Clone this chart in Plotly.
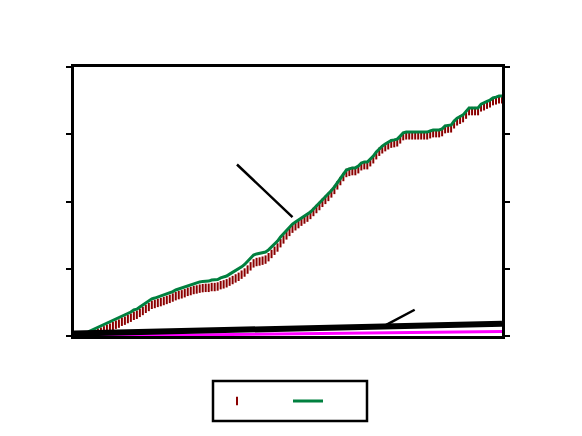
import plotly.graph_objects as go

# ---- data ----
green_vals = [0.2, 0.2, 0.4, 0.6, 0.7, 1.7, 2.2, 2.6, 3.2, 3.7,
              4.1, 4.8, 5.2, 5.8, 6.3, 6.7, 7.4, 7.8, 8.4, 8.9,
              9.7, 10.0, 10.8, 11.5, 12.3, 13.0, 13.8, 14.1, 14.5, 14.9,
              15.2, 15.6, 16.0, 16.5, 17.1, 17.5, 17.8, 18.2, 18.8, 19.1,
              19.5, 19.7, 20.1, 20.3, 20.4, 20.4, 20.8, 20.8, 21.0, 21.6,
              21.9, 22.3, 23.0, 23.6, 24.2, 24.9, 25.7, 26.6, 27.9, 29.2,
              30.1, 30.5, 30.7, 30.9, 31.2, 32.0, 33.1, 34.2, 35.3, 36.8,
              38.1, 39.4, 40.5, 41.6, 42.4, 43.1, 43.9, 44.6, 45.2, 46.1,
              47.2, 48.3, 49.4, 50.6, 51.7, 52.8, 54.1, 55.4, 57.1, 58.7,
              60.2, 61.7, 62.1, 62.5, 62.5, 63.2, 64.3, 64.7, 64.7, 65.8,
              66.9, 68.4, 69.7, 70.6, 71.4, 72.1, 72.7, 72.9, 73.2, 74.3,
              75.5, 75.8, 75.8, 75.8, 75.8, 75.8, 75.8, 75.8, 75.8, 76.2,
              76.6, 76.6, 76.6, 77.0, 78.1, 78.3, 78.4, 79.9, 81.0, 81.6,
              82.2, 83.5, 84.8, 84.8, 84.8, 84.8, 86.2, 86.6, 87.2, 87.7,
              88.5, 88.8, 89.2, 89.2]

red_vals = [0.0, 0.0, 0.0, 0.0, 0.0, 0.2, 0.5, 0.8, 1.2, 1.6,
            2.1, 2.7, 3.1, 3.7, 4.2, 4.6, 5.3, 5.7, 6.3, 6.8,
            7.5, 7.9, 8.6, 9.3, 10.1, 10.8, 11.6, 11.9, 12.3, 12.6,
            13.0, 13.4, 13.8, 14.3, 14.8, 15.2, 15.5, 15.9, 16.4, 16.7,
            17.1, 17.3, 17.6, 17.8, 17.9, 17.9, 18.2, 18.2, 18.4, 18.9,
            19.2, 19.6, 20.2, 20.8, 21.4, 22.0, 22.8, 23.6, 24.7, 25.9,
            27.0, 27.5, 27.7, 28.0, 28.4, 29.3, 30.5, 31.7, 32.9, 34.5,
            35.9, 37.4, 38.7, 39.9, 40.8, 41.6, 42.5, 43.3, 44.0, 45.0,
            46.1, 47.2, 48.3, 49.5, 50.6, 51.7, 53.0, 54.3, 56.0, 57.6,
            59.1, 60.6, 61.0, 61.3, 61.3, 62.0, 63.1, 63.5, 63.5, 64.6,
            65.7, 67.2, 68.5, 69.4, 70.2, 70.9, 71.5, 71.7, 72.0, 73.1,
            74.3, 74.6, 74.6, 74.6, 74.6, 74.6, 74.6, 74.6, 74.6, 75.0,
            75.4, 75.4, 75.4, 75.8, 76.9, 77.1, 77.2, 78.7, 79.8, 80.4,
            81.0, 82.3, 83.6, 83.6, 83.6, 83.6, 85.0, 85.4, 86.0, 86.5,
            87.3, 87.6, 88.0, 88.0]

x_idx = list(range(len(green_vals)))

black_x = [0, 143]
black_vals = [0.9, 4.6]

magenta_x = [0, 143]
magenta_vals = [-0.1, 1.7]

y_ticks = [0, 25, 50, 75, 100]

L, T, W, H = 66, 59, 428, 269  # plot area in page pixels (page has 8px body margin)
ox, oy = 74, 67  # on-screen origin of plot area

fig = go.Figure()

fig.add_trace(go.Scatter(
    x=x_idx, y=red_vals, mode="markers", name="",
    marker=dict(symbol="line-ns", size=6, color="#8B0000",
                line=dict(color="#8B0000", width=2)),
    showlegend=True,
))
fig.add_trace(go.Scatter(
    x=x_idx, y=green_vals, mode="lines", name="",
    line=dict(color="#00803F", width=3),
    showlegend=True,
))
fig.add_trace(go.Scatter(
    x=magenta_x, y=magenta_vals, mode="lines",
    line=dict(color="#FF00FF", width=3), showlegend=False,
))
fig.add_trace(go.Scatter(
    x=black_x, y=black_vals, mode="lines",
    line=dict(color="#000000", width=6), showlegend=False,
))

# annotation pointer lines (no text)
fig.add_annotation(x=73, y=44.2, text="", showarrow=True, arrowhead=0,
                   arrowwidth=2.5, arrowcolor="black", ax=-57, ay=-54,
                   standoff=0, startstandoff=0)
fig.add_annotation(x=104.3, y=4.1, text="", showarrow=True, arrowhead=0,
                   arrowwidth=2.5, arrowcolor="black", ax=30, ay=-16,
                   standoff=0, startstandoff=0)

# legend box (screen pixels converted to paper coords)
fig.add_shape(type="rect", xref="paper", yref="paper",
              x0=(213 - ox) / W, x1=(367 - ox) / W,
              y0=(336 - 421) / H, y1=(336 - 381) / H,
              line=dict(color="black", width=2.5), fillcolor="white",
              layer="below")

fig.update_layout(
    width=582, height=436,
    margin=dict(l=L, r=582 - L - W, t=T, b=436 - T - H),
    paper_bgcolor="white", plot_bgcolor="white",
    showlegend=True,
    legend=dict(orientation="h", x=(217 - ox) / W, xanchor="left",
                y=(336 - 401) / H, yanchor="middle",
                bgcolor="rgba(0,0,0,0)", borderwidth=0,
                entrywidth=26, entrywidthmode="pixels",
                font=dict(size=12)),
    xaxis=dict(range=[0, 143], showline=True, linecolor="black", linewidth=2.5,
               mirror=True, showticklabels=False, ticks="", showgrid=False,
               zeroline=False),
    yaxis=dict(range=[0, 100], tickvals=y_ticks, showline=True,
               linecolor="black", linewidth=2.5, mirror="ticks",
               ticks="outside", ticklen=5, tickwidth=2, tickcolor="black",
               showticklabels=False, showgrid=False, zeroline=False),
)

fig.write_html("out.html")
